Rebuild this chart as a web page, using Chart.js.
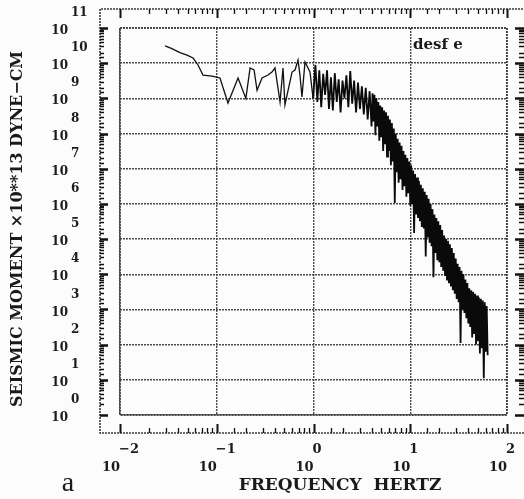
<!DOCTYPE html>
<html>
<head>
<meta charset="utf-8">
<script src="https://cdn.jsdelivr.net/npm/chart.js@4.4.0/dist/chart.umd.min.js"></script>
<style>
html, body { margin: 0; padding: 0; background: #fcfcfc; }
canvas { display: block; }
</style>
</head>
<body>
<canvas id="chart" width="524" height="499"></canvas>
<script>
// smooth-ish low frequency part of the spectrum (Hz / moment x10**13 dyne-cm)
var lowFreq = [0.0292, 0.0344, 0.0417, 0.0493, 0.0569, 0.064, 0.0721, 0.0893, 0.108, 0.1306,
	0.166, 0.200, 0.221, 0.243, 0.261, 0.294, 0.339, 0.372, 0.400, 0.451,
	0.484, 0.507, 0.600, 0.644, 0.692, 0.724, 0.760, 0.817, 0.920, 0.990];
var lowMoment = [3.1e10, 2.6e10, 2.0e10, 1.7e10, 1.4e10, 8.9e9, 4.6e9, 4.3e9, 3.8e9, 7.4e8,
	3.8e9, 1.0e9, 7.3e9, 6.4e9, 1.7e9, 3.8e9, 4.6e9, 5.6e9, 7.3e9, 7.9e8,
	7.3e9, 6.5e8, 5.6e9, 6.4e9, 1.23e10, 4.6e9, 1.1e9, 1.08e10, 5.6e9, 1.0e9];

// noisy part 1 - 4 Hz (peaks and dips)
var bandFreq = [1.047, 1.096, 1.148, 1.202, 1.259, 1.318, 1.380, 1.445, 1.514, 1.585,
	1.660, 1.738, 1.820, 1.905, 1.995, 2.089, 2.188, 2.291, 2.399, 2.512,
	2.630, 2.754, 2.884, 3.020, 3.162, 3.311, 3.467, 3.631, 3.802];
var bandMoment = [8.9e9, 7.9e8, 6.3e9, 5.6e8, 5.0e9, 1.26e9, 6.3e9, 5.0e8, 4.0e9, 4.5e8,
	5.2e9, 7.9e8, 3.5e9, 4.0e8, 3.2e9, 1.0e9, 4.5e9, 5.6e8, 6.0e9, 7.1e8,
	3.2e9, 4.0e8, 2.8e9, 5.0e8, 2.2e9, 3.5e8, 2.0e9, 2.5e8, 1.6e9];

// steep fall-off 4 - 63 Hz
var tailFreq = [3.981, 4.074, 4.169, 4.266, 4.365, 4.467, 4.571, 4.677, 4.786, 4.898,
	5.012, 5.129, 5.248, 5.370, 5.495, 5.623, 5.754, 5.888, 6.026, 6.166,
	6.310, 6.457, 6.607, 6.761, 6.918, 7.079, 7.244, 7.413, 7.586, 7.762,
	7.943, 8.128, 8.318, 8.511, 8.710, 8.913, 9.120, 9.333, 9.550, 9.772,
	10.00, 10.23, 10.47, 10.72, 10.96, 11.22, 11.48, 11.75, 12.02, 12.30,
	12.59, 12.88, 13.18, 13.49, 13.80, 14.13, 14.45, 14.79, 15.14, 15.49,
	15.85, 16.22, 16.60, 16.98, 17.38, 17.78, 18.20, 18.62, 19.05, 19.50,
	19.95, 20.42, 20.89, 21.38, 21.88, 22.39, 22.91, 23.44, 23.99, 24.55,
	25.12, 25.70, 26.30, 26.92, 27.54, 28.18, 28.84, 29.51, 30.20, 30.90,
	31.62, 32.36, 33.11, 33.88, 34.67, 35.48, 36.31, 37.15, 38.02, 38.90,
	39.81, 40.74, 41.69, 42.66, 43.65, 44.67, 45.71, 46.77, 47.86, 48.98,
	50.12, 51.29, 52.48, 53.70, 54.95, 56.23, 57.54, 58.88, 60.26, 61.66,
	63.10];
var tailMoment = [1.6e8, 1.4e9, 2.2e8, 1.26e9, 8.9e7, 1.0e9, 1.6e8, 7.9e8, 6.3e7, 6.3e8,
	7.9e7, 5.6e8, 3.2e7, 4.5e8, 5.0e7, 4.0e8, 2.2e7, 3.2e8, 3.2e7, 2.5e8,
	1.26e7, 2.0e8, 1.6e7, 1.4e8, 1.07e6, 1.0e8, 7.9e6, 7.1e7, 4.0e6, 5.6e7,
	5.0e6, 4.5e7, 2.5e6, 3.2e7, 3.2e6, 2.5e7, 1.6e6, 2.0e7, 2.0e6, 1.6e7,
	8.9e5, 1.26e7, 1.0e6, 8.9e6, 1.48e5, 7.1e6, 5.0e5, 5.6e6, 4.0e5, 4.5e6,
	3.2e5, 3.5e6, 2.2e5, 2.8e6, 2.0e5, 2.2e6, 3.2e4, 1.8e6, 1.12e5, 1.4e6,
	7.9e4, 1.0e6, 6.3e4, 7.1e5, 8.3e3, 5.0e5, 4.0e4, 4.0e5, 2.5e4, 3.2e5,
	2.2e4, 2.5e5, 1.6e4, 1.8e5, 1.26e4, 1.26e5, 8.9e3, 1.0e5, 7.1e3, 8.9e4,
	5.6e3, 7.1e4, 4.5e3, 5.6e4, 3.5e3, 4.0e4, 2.8e3, 2.8e4, 2.0e3, 2.0e4,
	1.6e3, 1.6e4, 1.12e2, 1.26e4, 1.0e3, 1.0e4, 7.9e2, 7.1e3, 5.6e2, 5.6e3,
	4.0e2, 4.0e3, 3.2e2, 3.5e3, 1.6e2, 3.2e3, 2.0e2, 2.8e3, 1.0e2, 2.5e3,
	1.26e2, 2.2e3, 56, 2.0e3, 79, 1.8e3, 11, 1.6e3, 63, 1.26e3,
	50];

var xExponents = ['-2', '-1', '0', '1', '2'];
var yExponents = ['0', '1', '2', '3', '4', '5', '6', '7', '8', '9', '10', '11'];

var serif = '"DejaVu Serif", "Liberation Serif", serif';

function isDecade(v) {
	var e = Math.log10(v);
	return Math.abs(e - Math.round(e)) < 1e-6;
}

function gridColor(c) {
	if (c.tick && isDecade(c.tick.value)) return '#4a4a4a';
	return 'rgba(0,0,0,0)';
}

var lowPoints = lowFreq.map((f, i) => ({ x: f, y: lowMoment[i] }));
// noisy part starts from the last low-frequency point so the trace stays joined
var bandPoints = [lowPoints[lowPoints.length - 1]];
bandFreq.forEach((f, i) => bandPoints.push({ x: f, y: bandMoment[i] }));
tailFreq.forEach((f, i) => bandPoints.push({ x: f, y: tailMoment[i] }));

// outer frame with tick marks, tick labels and texts
var khung = {
	id: 'khung',
	afterDraw(chart) {
		var ctx = chart.ctx;
		var a = chart.chartArea;
		var sx = chart.scales.x;
		var sy = chart.scales.y;
		var L = 100, T = 9, R = 526, B = 433;
		ctx.save();

		// inner box
		ctx.strokeStyle = '#3a3a3a';
		ctx.lineWidth = 1.6;
		ctx.setLineDash([2, 1]);
		ctx.strokeRect(a.left, a.top, a.right - a.left, a.bottom - a.top);

		// outer frame
		ctx.beginPath();
		ctx.moveTo(R, T); ctx.lineTo(L, T); ctx.lineTo(L, B); ctx.lineTo(R, B);
		ctx.stroke();
		ctx.setLineDash([]);

		ctx.strokeStyle = '#111';
		sx.ticks.forEach(t => {
			var px = Math.round(sx.getPixelForValue(t.value)) + 0.5;
			var major = isDecade(t.value);
			var len = major ? 9 : 5;
			ctx.lineWidth = major ? 2 : 1.3;
			ctx.beginPath();
			ctx.moveTo(px, T); ctx.lineTo(px, T + len);
			ctx.moveTo(px, B); ctx.lineTo(px, B - len);
			ctx.stroke();
		});
		sy.ticks.forEach(t => {
			var py = Math.round(sy.getPixelForValue(t.value)) + 0.5;
			var major = isDecade(t.value);
			var len = major ? 8 : 4;
			ctx.lineWidth = major ? 2.5 : 1.3;
			ctx.beginPath();
			ctx.moveTo(L, py); ctx.lineTo(L + len, py);
			ctx.moveTo(524, py); ctx.lineTo(524 - len - 1, py);
			ctx.stroke();
		});

		// tick labels: 10 with exponent on top
		ctx.fillStyle = '#1a1a1a';
		ctx.textBaseline = 'middle';
		yExponents.forEach(e => {
			var py = sy.getPixelForValue(Math.pow(10, Number(e)));
			ctx.font = 'bold 12px ' + serif;
			ctx.textAlign = 'right';
			ctx.fillText('10', 68, py + 3);
			ctx.textAlign = 'left';
			ctx.fillText(e, 71, py - 15);
		});
		xExponents.forEach(e => {
			var px = sx.getPixelForValue(Math.pow(10, Number(e)));
			ctx.font = 'bold 13px ' + serif;
			ctx.textAlign = 'right';
			ctx.fillText('10', px, 468);
			ctx.textAlign = 'left';
			ctx.fillText(e.replace('-', '\u2212'), px - 1, 450);
		});

		// axis titles
		ctx.font = 'bold 17px ' + serif;
		ctx.textAlign = 'center';
		ctx.fillText('FREQUENCY  HERTZ', 340, 486);
		ctx.save();
		ctx.translate(18, 229);
		ctx.rotate(-Math.PI / 2);
		ctx.font = 'bold 16px ' + serif;
		ctx.fillText('SEISMIC MOMENT \u00d710**13 DYNE\u2212CM', 0, 0);
		ctx.restore();

		ctx.font = 'bold 15px ' + serif;
		ctx.textAlign = 'left';
		ctx.fillText('desf e', 413, 45);

		ctx.font = '28px "Liberation Serif", serif';
		ctx.textAlign = 'center';
		ctx.fillText('a', 68, 484);
		ctx.restore();
	}
};

new Chart(document.getElementById('chart').getContext('2d'), {
	type: 'line',
	data: {
		datasets: [{
			label: 'low',
			data: lowPoints,
			borderColor: '#111',
			borderWidth: 1.3,
			pointRadius: 0,
			tension: 0,
			fill: false
		}, {
			label: 'desf e',
			data: bandPoints,
			borderColor: '#0a0a0a',
			borderWidth: 1.8,
			pointRadius: 0,
			tension: 0,
			fill: false
		}]
	},
	options: {
		responsive: false,
		animation: false,
		devicePixelRatio: 1,
		layout: { padding: { left: 120, right: 17, top: 28, bottom: 84 } },
		plugins: { legend: { display: false }, tooltip: { enabled: false } },
		scales: {
			x: {
				type: 'logarithmic',
				min: 0.01,
				max: 100,
				ticks: { display: false },
				grid: { color: gridColor, lineWidth: 1.4, drawTicks: false },
				border: { display: false, dash: [2, 1] }
			},
			y: {
				type: 'logarithmic',
				min: 1,
				max: 1e11,
				ticks: { display: false },
				grid: { color: gridColor, lineWidth: 1.4, drawTicks: false },
				border: { display: false, dash: [2, 1] }
			}
		}
	},
	plugins: [khung]
});
</script>
</body>
</html>
